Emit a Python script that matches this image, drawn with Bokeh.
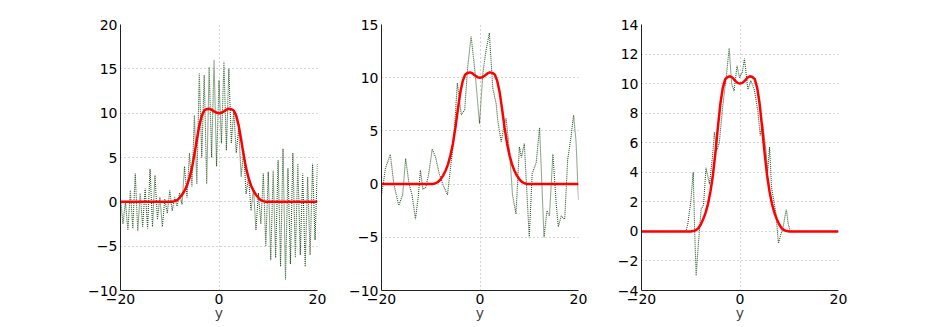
from bokeh.plotting import figure
from bokeh.layouts import row
from bokeh.models import Range1d, FixedTicker
from bokeh.embed import file_html
from bokeh.resources import INLINE

# ---------------- data ----------------
red_x = [-20, -10, -9.5, -9, -8.5, -8, -7.5, -7, -6.5, -6, -5.5, -5, -4.5, -4, -3.5, -3,
         -2.5, -2, -1.5, -1, -0.5, 0, 0.5, 1, 1.5, 2, 2.5, 3, 3.5, 4, 4.5, 5, 5.5, 6,
         6.5, 7, 7.5, 8, 8.5, 9, 9.5, 10, 20]
red_y = [0, 0, 0.02, 0.08, 0.2, 0.45, 0.8, 1.25, 1.85, 2.7, 3.8, 5.3, 7.0, 8.6, 9.7, 10.3,
         10.45, 10.5, 10.4, 10.2, 10.05, 10.0, 10.05, 10.2, 10.4, 10.5, 10.45, 10.3, 9.7, 8.6,
         7.0, 5.3, 3.8, 2.7, 1.85, 1.25, 0.8, 0.45, 0.2, 0.08, 0.02, 0, 0]

noise1_x = [v * 0.5 for v in range(-40, 41)]
noise1_y = [0.5, -2.5, 0.0, -3.2, 1.3, -3.0, 3.2, -3.3, 1.0, -2.8, 1.5, -3.0, 3.7, -2.8,
            3.0, -2.0, 0.5, -2.8, 0.3, -1.3, 1.3, -1.0, 0.5, -0.5, 1.0, -0.3, 4.0, 0.5,
            5.5, 1.7, 9.8, 2.0, 14.5, 5.0, 14.3, 2.0, 15.2, 5.0, 16.0, 4.0, 13.7, 6.6,
            15.8, 5.8, 15.0, 6.6, 10.3, 5.5, 8.3, 2.8, 5.8, 0.9, 2.8, -1.0, 1.5, -3.2,
            1.0, -2.5, 3.2, -5.0, 3.4, -6.6, 3.5, -6.3, 4.7, -7.3, 6.0, -8.8, 3.8, -7.0,
            5.5, -6.3, 4.3, -6.0, 3.2, -7.3, 2.8, -6.0, 4.3, -4.3, 4.3]

noise2_x = [-20, -19.5, -19.2, -18.2, -17.5, -16.5, -15.7, -15.1, -14.4, -13.8, -13.1,
            -12.5, -12.1, -11.6, -11.0, -10.4, -9.7, -9.0, -8.3, -7.3, -6.6, -6.0, -5.3,
            -4.6, -3.8, -3.1, -2.5, -1.8, -1.0, -0.1, 0.6, 1.2, 1.9, 2.6, 3.3, 3.6, 4.3,
            4.9, 5.3, 6.0, 6.6, 7.3, 8.0, 8.4, 9.0, 10.0, 10.6, 11.4, 12.1, 13.0, 13.6,
            14.1, 14.8, 15.5, 15.9, 16.5, 17.2, 17.8, 18.5, 19.0, 19.5, 20.0]
noise2_y = [-1.0, 0.5, 1.5, 2.8, 0.0, -2.0, -1.0, 2.4, 0.0, -1.0, -3.3,
            -1.0, 1.3, -0.5, -0.3, 1.0, 3.3, 2.5, 1.0, -0.3, -1.0, 1.5, 4.3,
            9.5, 6.5, 7.0, 11.0, 13.9, 10.5, 5.7, 10.5, 12.5, 14.2, 9.0, 7.5, 6.0, 4.0,
            5.5, 6.2, 3.0, -1.0, -2.8, 3.5, 2.5, 3.8, -5.0, 1.0, 2.0, 5.3, -5.0, -2.5,
            -3.0, 2.8, -2.0, -4.0, -3.0, -3.3, 2.3, 4.5, 6.5, 4.0, -1.5]

noise3_x = [-20, -11, -10.6, -10.0, -9.5, -9.2, -8.9, -8.6, -7.9, -7.4, -6.9, -6.2, -5.6,
            -5.2, -4.7, -4.2, -3.5, -2.8, -2.2, -1.7, -1.2, -0.6, -0.1, 0.5, 0.9, 1.6,
            2.2, 2.9, 3.6, 4.1, 4.6, 5.3, 5.6, 6.0, 6.4, 7.3, 7.8, 8.3, 8.7, 9.4, 9.8,
            10.2, 20]
noise3_y = [0, 0, 0.5, 2.0, 4.0, 0.0, -3.0, -1.5, 1.5, 1.8, 4.3, 3.2, 5.0,
            6.7, 5.5, 6.0, 8.5, 10.4, 12.4, 10.0, 9.5, 11.2, 10.4, 10.8, 11.7, 9.6,
            10.2, 9.6, 8.2, 6.5, 7.3, 5.4, 4.0, 5.7, 3.0, 1.2, -0.8, -0.2, 0.2, 1.5, 0.5,
            0, 0]

x_ticks = [-20, 0, 20]
y_ticks1 = [-10, -5, 0, 5, 10, 15, 20]
y_ticks2 = [-10, -5, 0, 5, 10, 15]
y_ticks3 = [-4, -2, 0, 2, 4, 6, 8, 10, 12, 14]
x_label = "y"

FONT = "DejaVu Sans"
FS = "14px"


def lab(ticks):
    return {t: str(t).replace("-", "\u2212") for t in ticks}


def panel(nx, ny, yticks, left_border):
    p = figure(frame_width=197, frame_height=266, output_backend="svg",
               toolbar_location=None, x_range=Range1d(-20, 20),
               y_range=Range1d(yticks[0], yticks[-1]),
               min_border_left=left_border, min_border_right=22,
               min_border_top=24, min_border_bottom=0)
    p.outline_line_color = None
    p.background_fill_color = "white"
    p.border_fill_color = "white"
    for ax, ticks in ((p.xaxis[0], x_ticks), (p.yaxis[0], yticks)):
        ax.ticker = FixedTicker(ticks=ticks)
        ax.major_label_overrides = lab(ticks)
        ax.major_tick_in = 0
        ax.major_tick_out = 0
        ax.minor_tick_in = 0
        ax.minor_tick_out = 0
        ax.axis_line_color = "#222222"
        ax.axis_line_width = 1
        ax.major_label_text_font = FONT
        ax.major_label_text_font_size = FS
        ax.major_label_text_color = "black"
        ax.major_label_standoff = 3
    p.xaxis.axis_label = x_label
    p.xaxis.axis_label_text_font = FONT
    p.xaxis.axis_label_text_font_size = FS
    p.xaxis.axis_label_text_font_style = "normal"
    p.xaxis.axis_label_standoff = -2
    for g in (p.xgrid[0], p.ygrid[0]):
        g.grid_line_color = "#aaaaaa"
        g.grid_line_dash = "1 3"
        g.grid_line_width = 1
    p.xgrid.ticker = FixedTicker(ticks=x_ticks)
    p.ygrid.ticker = FixedTicker(ticks=yticks)
    p.line(nx, ny, line_color="#2a5a2a", line_width=1.1, line_dash="1 1")
    p.line(red_x, red_y, line_color="#ff0000", line_width=2.5)
    return p


p1 = panel(noise1_x, noise1_y, y_ticks1, 120)
p2 = panel(noise2_x, noise2_y, y_ticks2, 42)
p3 = panel(noise3_x, noise3_y, y_ticks3, 41)

layout = row(p1, p2, p3, spacing=0)
open("out.html", "w").write(file_html(layout, INLINE))
